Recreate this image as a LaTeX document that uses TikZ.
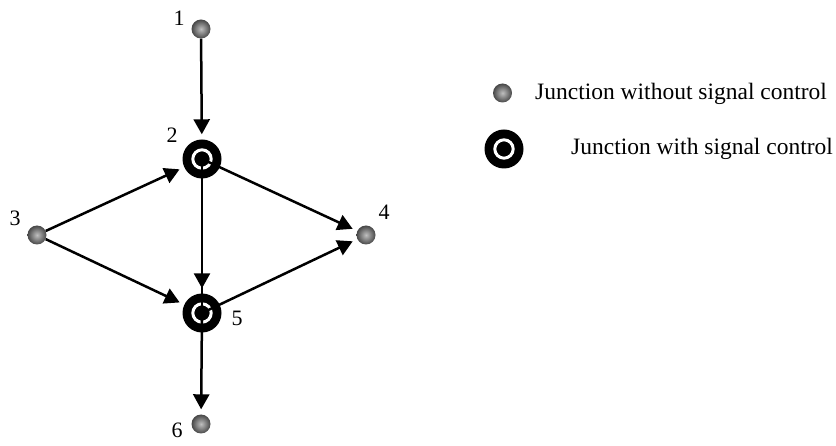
\documentclass[tikz,border=0pt]{standalone}
\usepackage{fontspec}
\setmainfont{Liberation Serif}
\usetikzlibrary{arrows.meta}
\tikzset{
  ball/.style={circle, minimum size=19pt, inner sep=0pt, shading=radial, inner color=black!25, outer color=black!72},
  sig/.style={circle, fill=black, minimum size=39pt, inner sep=0pt,
    path picture={\draw[white, line width=3pt] (path picture bounding box.center) circle[radius=9.2pt];}},
  lbl/.style={inner sep=0pt, font=\fontsize{22}{26}\selectfont},
  legtext/.style={inner sep=0pt, anchor=base west, font=\fontsize{23.5}{28}\selectfont},
  edge/.style={line width=2.5pt},
  arr/.style={line width=2.5pt, -{Triangle[length=15pt,width=16pt]}, shorten >=5pt},
}
\begin{document}
\begin{tikzpicture}[x=1pt,y=-1pt]
\useasboundingbox (0,0) rectangle (836,446);
% nodes
\node[ball] (n1) at (201,29) {};
\node[sig]  (n2) at (202,159) {};
\node[ball] (n3) at (37,235) {};
\node[ball] (n4) at (366,235) {};
\node[sig]  (n5) at (202,313) {};
\node[ball] (n6) at (201,424) {};
% labels
\node[lbl] (l1) at (179,18) {1};
\node[lbl] (l2) at (172,135) {2};
\node[lbl] (l3) at (15,218) {3};
\node[lbl] (l4) at (384,212) {4};
\node[lbl] (l5) at (237,318) {5};
\node[lbl] (l6) at (177,430) {6};
% edges
\draw[arr] (n1) -- (n2);
\draw[edge] (n2.center) -- (n5.center);
\draw[arr] (n2.center) -- (n5);
\draw[arr] (n3) -- (n2);
\draw[arr] (n3) -- (n5);
\draw[arr] (n2.center) -- (n4);
\draw[arr] (n5.center) -- (n4);
\draw[arr] (n5.center) -- (n6);
% legend
\node[ball] (lg1) at (502.5,93) {};
\node[sig]  (lg2) at (504,149) {};
\node[legtext] (t1) at (535,100) {Junction without signal control};
\node[legtext] (t2) at (571,155) {Junction with signal control};
\end{tikzpicture}
\end{document}
